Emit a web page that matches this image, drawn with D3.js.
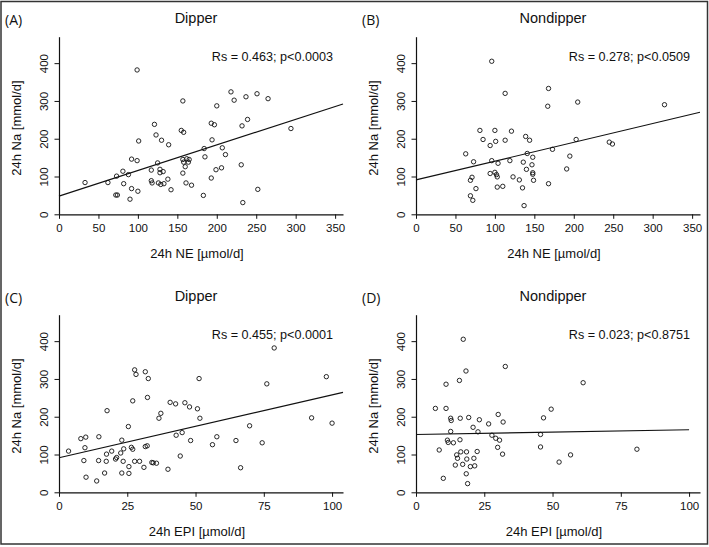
<!DOCTYPE html>
<html><head><meta charset="utf-8">
<script src="https://cdn.jsdelivr.net/npm/d3@7"></script>
<style>body{margin:0;background:#fff}</style>
</head><body>
<svg id="c" width="709" height="547"></svg>
<script>
// ---- data ----
const panelLetters = ["(A)", "(B)", "(C)", "(D)"];
const panelTitles = ["Dipper", "Nondipper", "Dipper", "Nondipper"];
const statTexts = ["Rs = 0.463; p<0.0003", "Rs = 0.278; p<0.0509", "Rs = 0.455; p<0.0001", "Rs = 0.023; p<0.8751"];
const xLabels = ["24h NE [µmol/d]", "24h NE [µmol/d]", "24h EPI [µmol/d]", "24h EPI [µmol/d]"];
const yLabel = "24h Na [mmol/d]";
const neTicks = [0, 50, 100, 150, 200, 250, 300, 350];
const epiTicks = [0, 25, 50, 75, 100];
const naTicks = [0, 100, 200, 300, 400];

const dipperNE = [[33,84],[62,84],[73,101],[81,114],[82,81],[72,51],[74,51],[88,105],[90,40],[92,146],[92,68],[99,142],[100,61],[99,382],[101,194],[117,117],[117,89],[118,83],[121,238],[123,210],[125,136],[126,83],[128,119],[128,110],[130,196],[129,79],[132,113],[133,81],[138,93],[139,184],[142,65],[155,222],[157,300],[158,217],[157,145],[162,147],[165,145],[158,138],[164,138],[160,126],[157,109],[161,83],[168,77],[183,50],[184,174],[185,152],[193,96],[194,197],[193,241],[197,237],[199,118],[200,287],[206,123],[207,176],[211,158],[218,324],[222,302],[231,131],[232,234],[237,311],[239,251],[233,31],[251,319],[252,66],[265,306],[294,227]];
const nondipperNE = [[63,160],[96,405],[113,320],[81,222],[85,198],[100,222],[101,193],[94,182],[113,196],[121,220],[73,139],[96,142],[71,98],[69,90],[76,68],[69,49],[72,37],[94,108],[100,111],[102,105],[103,99],[104,135],[103,72],[110,74],[119,142],[123,99],[131,91],[136,138],[135,70],[137,23],[139,206],[144,196],[141,161],[140,119],[148,151],[147,131],[148,110],[148,106],[149,90],[168,333],[167,286],[205,297],[203,198],[173,172],[195,154],[191,120],[168,81],[245,191],[249,186],[315,290]];
const dipperEPI = [[3.5,109],[8,142],[9.8,146],[9.5,118],[9.1,84],[9.9,40],[14.6,147],[14.5,84],[13.8,30],[17.6,216],[17.4,101],[17.3,82],[16.7,51],[19.3,109],[20.7,88],[21.1,92],[22.6,104],[23,138],[23.7,115],[23.5,82],[23,51],[25.4,174],[25.6,68],[25.6,50],[26.5,119],[27,114],[27,242],[27.7,324],[28.2,312],[27.7,82],[29.5,82],[31.1,66],[31.6,319],[32.7,301],[31.6,121],[32.3,123],[32.4,251],[34,79],[34.5,78],[35.7,77],[36.6,196],[37.3,209],[39.9,61],[40.7,238],[42.7,234],[42.9,151],[45.1,158],[44.4,96],[46.1,237],[47.8,226],[48.2,137],[50.7,221],[51.3,301],[51.6,196],[56.2,126],[57.8,147],[64.8,137],[66.5,65],[69.8,176],[74.4,131],[76.1,287],[78.8,382],[92.5,197],[97.9,306],[100,183]];
const nondipperEPI = [[7.1,222],[8.5,112],[10,37],[11,286],[11,222],[11.5,138],[11.8,132],[12.7,196],[12.9,190],[12.7,161],[13.7,131],[14.4,72],[14.9,99],[15.2,90],[15.9,296],[16.2,196],[16.1,139],[16.4,107],[17.1,74],[17.3,405],[18.3,321],[18.5,107],[18.6,88],[18.4,49],[18.9,23],[19.3,198],[19.9,68],[20.9,172],[21.2,90],[21.5,70],[22.7,160],[22.4,108],[23.2,192],[26.6,181],[27.8,151],[29.2,143],[30.6,138],[29.9,119],[31.7,101],[30.1,206],[31.9,186],[32.7,333],[61.2,290],[49.5,220],[46.7,197],[45.6,153],[45.6,120],[52.4,80],[56.6,99],[80.9,114]];
const fitLines = [[[0,48],[360,292]], [[0,91],[360,270]], [[0,91.5],[104,264.5]], [[0,153],[100,165.5]]];

// ---- drawing ----
const svg = d3.select("#c");
svg.append("rect").attr("x",1).attr("y",1.5).attr("width",706.5).attr("height",542.5)
  .attr("fill","none").attr("stroke","#333").attr("stroke-width",1.5);

const panels = [
  {pts: dipperNE, ticks: neTicks, xmax: 360, dx: 0, dy: 0},
  {pts: nondipperNE, ticks: neTicks, xmax: 360, dx: 357, dy: 0},
  {pts: dipperEPI, ticks: epiTicks, xmax: 104, dx: 0, dy: 278},
  {pts: nondipperEPI, ticks: epiTicks, xmax: 104, dx: 357, dy: 278}
];
const tickFont = "'Liberation Sans Narrow','Arial Narrow','Liberation Sans',Arial,sans-serif";
const mainFont = "'Liberation Sans',Arial,Helvetica,sans-serif";

panels.forEach((p, i) => {
  const g = svg.append("g").attr("transform", `translate(${p.dx},${p.dy})`);
  const x = d3.scaleLinear().domain([0, p.xmax]).range([59, 343]);
  const y = d3.scaleLinear().domain([0, 470]).range([214.3, 36.7]);

  // axes
  const xa = g.append("g").attr("transform","translate(0,214.3)")
    .call(d3.axisBottom(x).tickValues(p.ticks).tickSize(4.5).tickPadding(2).tickSizeOuter(0));
  const ya = g.append("g").attr("transform","translate(59,0)")
    .call(d3.axisLeft(y).tickValues(naTicks).tickSize(4.5).tickSizeOuter(0));
  [xa, ya].forEach(a => {
    a.select(".domain").attr("stroke","#111").attr("stroke-width",1.2);
    a.selectAll(".tick line").attr("stroke","#111").attr("stroke-width",1);
    a.selectAll("text").attr("font-family", tickFont).attr("font-size", 11.5).attr("fill","#111");
  });
  xa.selectAll(".tick text").attr("dy", null).attr("y", 17.5);
  ya.selectAll(".tick text")
    .attr("x", null).attr("dy", null)
    .attr("text-anchor","middle")
    .attr("transform", "translate(-11,0) rotate(-90)");

  // fit line
  g.append("path").datum(fitLines[i])
    .attr("d", d3.line().x(d => x(d[0])).y(d => y(d[1])))
    .attr("fill","none").attr("stroke","#111").attr("stroke-width",1.2);

  // points
  g.append("g").selectAll("circle").data(p.pts).join("circle")
    .attr("cx", d => x(d[0])).attr("cy", d => y(d[1])).attr("r", 2.2)
    .attr("fill","none").attr("stroke","#111").attr("stroke-width",0.9);

  // texts
  g.append("text").attr("x", 5).attr("y", 25).text(panelLetters[i])
    .attr("font-family","'Open Sans',sans-serif").attr("font-size",14).attr("fill","#111");
  g.append("text").attr("x", 196).attr("y", 23).attr("text-anchor","middle").text(panelTitles[i])
    .attr("font-family", mainFont).attr("font-size",14.5).attr("fill","#111");
  g.append("text").attr("x", 333).attr("y", 61).attr("text-anchor","end").text(statTexts[i])
    .attr("font-family", mainFont).attr("font-size",12.6).attr("fill","#111");
  g.append("text").attr("x", 197).attr("y", 258).attr("text-anchor","middle").text(xLabels[i])
    .attr("font-family", mainFont).attr("font-size",13).attr("fill","#111");
  g.append("text").attr("transform","translate(21,128) rotate(-90)").attr("text-anchor","middle").text(yLabel)
    .attr("font-family", mainFont).attr("font-size",13).attr("fill","#111");
});
</script>
</body></html>
